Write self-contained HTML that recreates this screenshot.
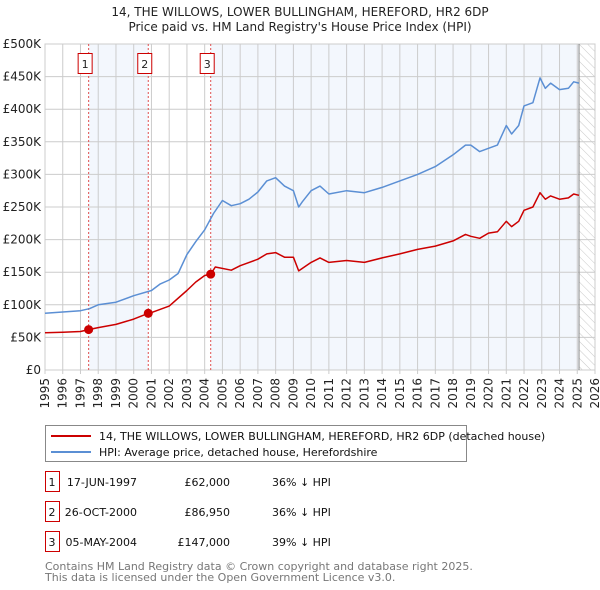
<!DOCTYPE html>
<html><head><meta charset="utf-8"><style>
body{margin:0;background:#fff;width:600px;height:590px;overflow:hidden;font-family:"DejaVu Sans","Liberation Sans",sans-serif}
svg{display:block}
</style></head><body>
<svg id="chart" width="600" height="590" xmlns="http://www.w3.org/2000/svg" font-family="DejaVu Sans, Liberation Sans, sans-serif">
<defs><pattern id="hatch" width="6" height="6" patternUnits="userSpaceOnUse" patternTransform="rotate(-45)"><line x1="0" y1="0" x2="0" y2="6" stroke="#bbb" stroke-width="0.8"/></pattern></defs>
<text x="300" y="16" text-anchor="middle" font-size="12" fill="#222">14, THE WILLOWS, LOWER BULLINGHAM, HEREFORD, HR2 6DP</text>
<text x="300" y="31" text-anchor="middle" font-size="12" fill="#222">Price paid vs. HM Land Registry's House Price Index (HPI)</text>
<g id="plot"></g>
<g>
<rect x="45.5" y="425.5" width="421" height="36" fill="#fff" stroke="#888"/>
<line x1="51" y1="436" x2="91" y2="436" stroke="#cc0000" stroke-width="2"/>
<text x="99" y="440" font-size="11" fill="#111">14, THE WILLOWS, LOWER BULLINGHAM, HEREFORD, HR2 6DP (detached house)</text>
<line x1="51" y1="452" x2="91" y2="452" stroke="#5b8fd4" stroke-width="2"/>
<text x="99" y="456" font-size="11" fill="#111">HPI: Average price, detached house, Herefordshire</text>
</g>
<g id="table" font-size="11" fill="#111"></g>
<text x="45" y="570" font-size="11" fill="#777">Contains HM Land Registry data © Crown copyright and database right 2025.</text>
<text x="45" y="581" font-size="11" fill="#777">This data is licensed under the Open Government Licence v3.0.</text>
</svg>
<script>
const hpiYears=[1995,1996,1997,1997.5,1998,1999,2000,2001,2001.5,2002,2002.5,2003,2003.5,2004,2004.5,2005,2005.5,2006,2006.5,2007,2007.5,2008,2008.5,2009,2009.3,2009.5,2010,2010.5,2011,2012,2013,2014,2015,2016,2017,2018,2018.7,2019,2019.5,2020,2020.5,2021,2021.3,2021.7,2022,2022.5,2022.9,2023.2,2023.5,2024,2024.5,2024.8,2025.1];
const hpiValues=[87,89,91,94,100,104,114,122,132,138,148,177,197,215,240,260,252,255,262,273,290,295,282,275,250,258,275,282,270,275,272,280,290,300,312,330,345,345,335,340,345,375,362,375,405,410,448,432,440,430,432,442,440];
const ppYears=[1995,1996,1997,1997.46,1998,1999,2000,2000.82,2001,2002,2003,2003.5,2004,2004.34,2004.6,2005.5,2006,2007,2007.5,2008,2008.5,2009,2009.3,2010,2010.5,2011,2012,2013,2014,2015,2016,2017,2018,2018.7,2019,2019.5,2020,2020.5,2021,2021.3,2021.7,2022,2022.5,2022.9,2023.2,2023.5,2024,2024.5,2024.8,2025.1];
const ppValues=[57,58,59,62,65,70,78,87,88,98,122,135,145,147,158,153,160,170,178,180,173,173,152,165,172,165,168,165,172,178,185,190,198,208,205,202,210,212,228,220,228,245,250,272,262,267,262,264,270,268];
const saleYears=[1997.46,2000.82,2004.34];
const saleValues=[62,86.95,147];
const saleDates=["17-JUN-1997","26-OCT-2000","05-MAY-2004"];
const salePrices=["£62,000","£86,950","£147,000"];
const saleDiffs=["36% ↓ HPI","36% ↓ HPI","39% ↓ HPI"];
const yTicks=[0,50,100,150,200,250,300,350,400,450,500];
const yTickLabels=["£0","£50K","£100K","£150K","£200K","£250K","£300K","£350K","£400K","£450K","£500K"];
const xTicks=[1995,1996,1997,1998,1999,2000,2001,2002,2003,2004,2005,2006,2007,2008,2009,2010,2011,2012,2013,2014,2015,2016,2017,2018,2019,2020,2021,2022,2023,2024,2025,2026];

const X0=45,X1=595,Y0=370,Y1=44,T0=1995,T1=2026,V1=500,dataEnd=2025.1;
const xs=t=>X0+(t-T0)/(T1-T0)*(X1-X0);
const ys=v=>Y0-v/V1*(Y0-Y1);
const NS="http://www.w3.org/2000/svg";
const plot=document.getElementById('plot');
function mk(tag,attrs,parent){const e=document.createElementNS(NS,tag);for(const k in attrs)e.setAttribute(k,attrs[k]);(parent||plot).appendChild(e);return e;}

let r=mk('rect',{x:xs(saleYears[0]),y:Y1,width:xs(saleYears[1])-xs(saleYears[0]),height:Y0-Y1,fill:'#eef3fc',opacity:0.7});


r=mk('rect',{x:xs(saleYears[2]),y:Y1,width:xs(dataEnd)-xs(saleYears[2]),height:Y0-Y1,fill:'#eef3fc',opacity:0.7});


r=mk('rect',{x:xs(dataEnd),y:Y1,width:X1-xs(dataEnd),height:Y0-Y1,fill:'url(#hatch)'});



yTicks.forEach((v,i)=>{
 const l=mk('line',{x1:X0,x2:X1,y1:ys(v),y2:ys(v),stroke:'#ccc','stroke-width':1});
 
 
 const t=mk('text',{x:X0-4,y:ys(v)+4,'text-anchor':'end','font-size':12,fill:'#222'});
 
 
 t.textContent=yTickLabels[i];
});
xTicks.forEach(y=>{
 const l=mk('line',{x1:xs(y),x2:xs(y),y1:Y1,y2:Y0+4,stroke:'#ccc','stroke-width':1});
 
 
 const t=mk('text',{x:0,y:0,'text-anchor':'end','font-size':12,fill:'#222',transform:`translate(${xs(y)+4},${Y0+8}) rotate(-90)`});
 
 
 t.textContent=y;
});
let b=mk('rect',{x:X0,y:Y1,width:X1-X0,height:Y0-Y1,fill:'none',stroke:'#ccc'});


let el=mk('line',{x1:xs(dataEnd),x2:xs(dataEnd),y1:Y1,y2:Y0,stroke:'#888','stroke-width':1});



saleYears.forEach((s,i)=>{
 const l=mk('line',{x1:xs(s),x2:xs(s),y1:Y1,y2:Y0,stroke:'#e05050','stroke-dasharray':'2,2','stroke-width':1});
 
 
 const bx=mk('rect',{x:xs(s)-10.5,y:53.5,width:14,height:20,fill:'#fff',stroke:'#cc0000'});
 
 
 const t=mk('text',{x:xs(s)-3.5,y:68,'text-anchor':'middle','font-size':11,fill:'#222'});
 
 
 t.textContent=i+1;
});

function path(xsArr,vs,color,name){
 const d=xsArr.map((t,i)=>(i?'L':'M')+xs(t).toFixed(1)+','+ys(vs[i]).toFixed(1)).join('');
 const p=mk('path',{d:d,fill:'none',stroke:color,'stroke-width':1.5,'stroke-linejoin':'round'});
 
 
}
path(hpiYears,hpiValues,'#5b8fd4','hpi-line');
path(ppYears,ppValues,'#cc0000','price-paid-line');
saleYears.forEach((s,i)=>{
 const c=mk('circle',{cx:xs(s),cy:ys(saleValues[i]),r:4.5,fill:'#cc0000'});
 
 
});

const tb=document.getElementById('table');
saleDates.forEach((d,i)=>{
 const y=483+i*30;
 const bx=mk('rect',{x:45.5,y:y-11.5,width:14,height:20,fill:'#fff',stroke:'#cc0000'},tb);
 
 
 const cells=[[52,'middle',String(i+1)],[137,'end',d],[230,'end',salePrices[i]],[272,'start',saleDiffs[i]]];
 cells.forEach(c=>{
  const t=mk('text',{x:c[0],y:y+3,'text-anchor':c[1]},tb);
  
  
  t.textContent=c[2];
 });
});
</script>
</body></html>
